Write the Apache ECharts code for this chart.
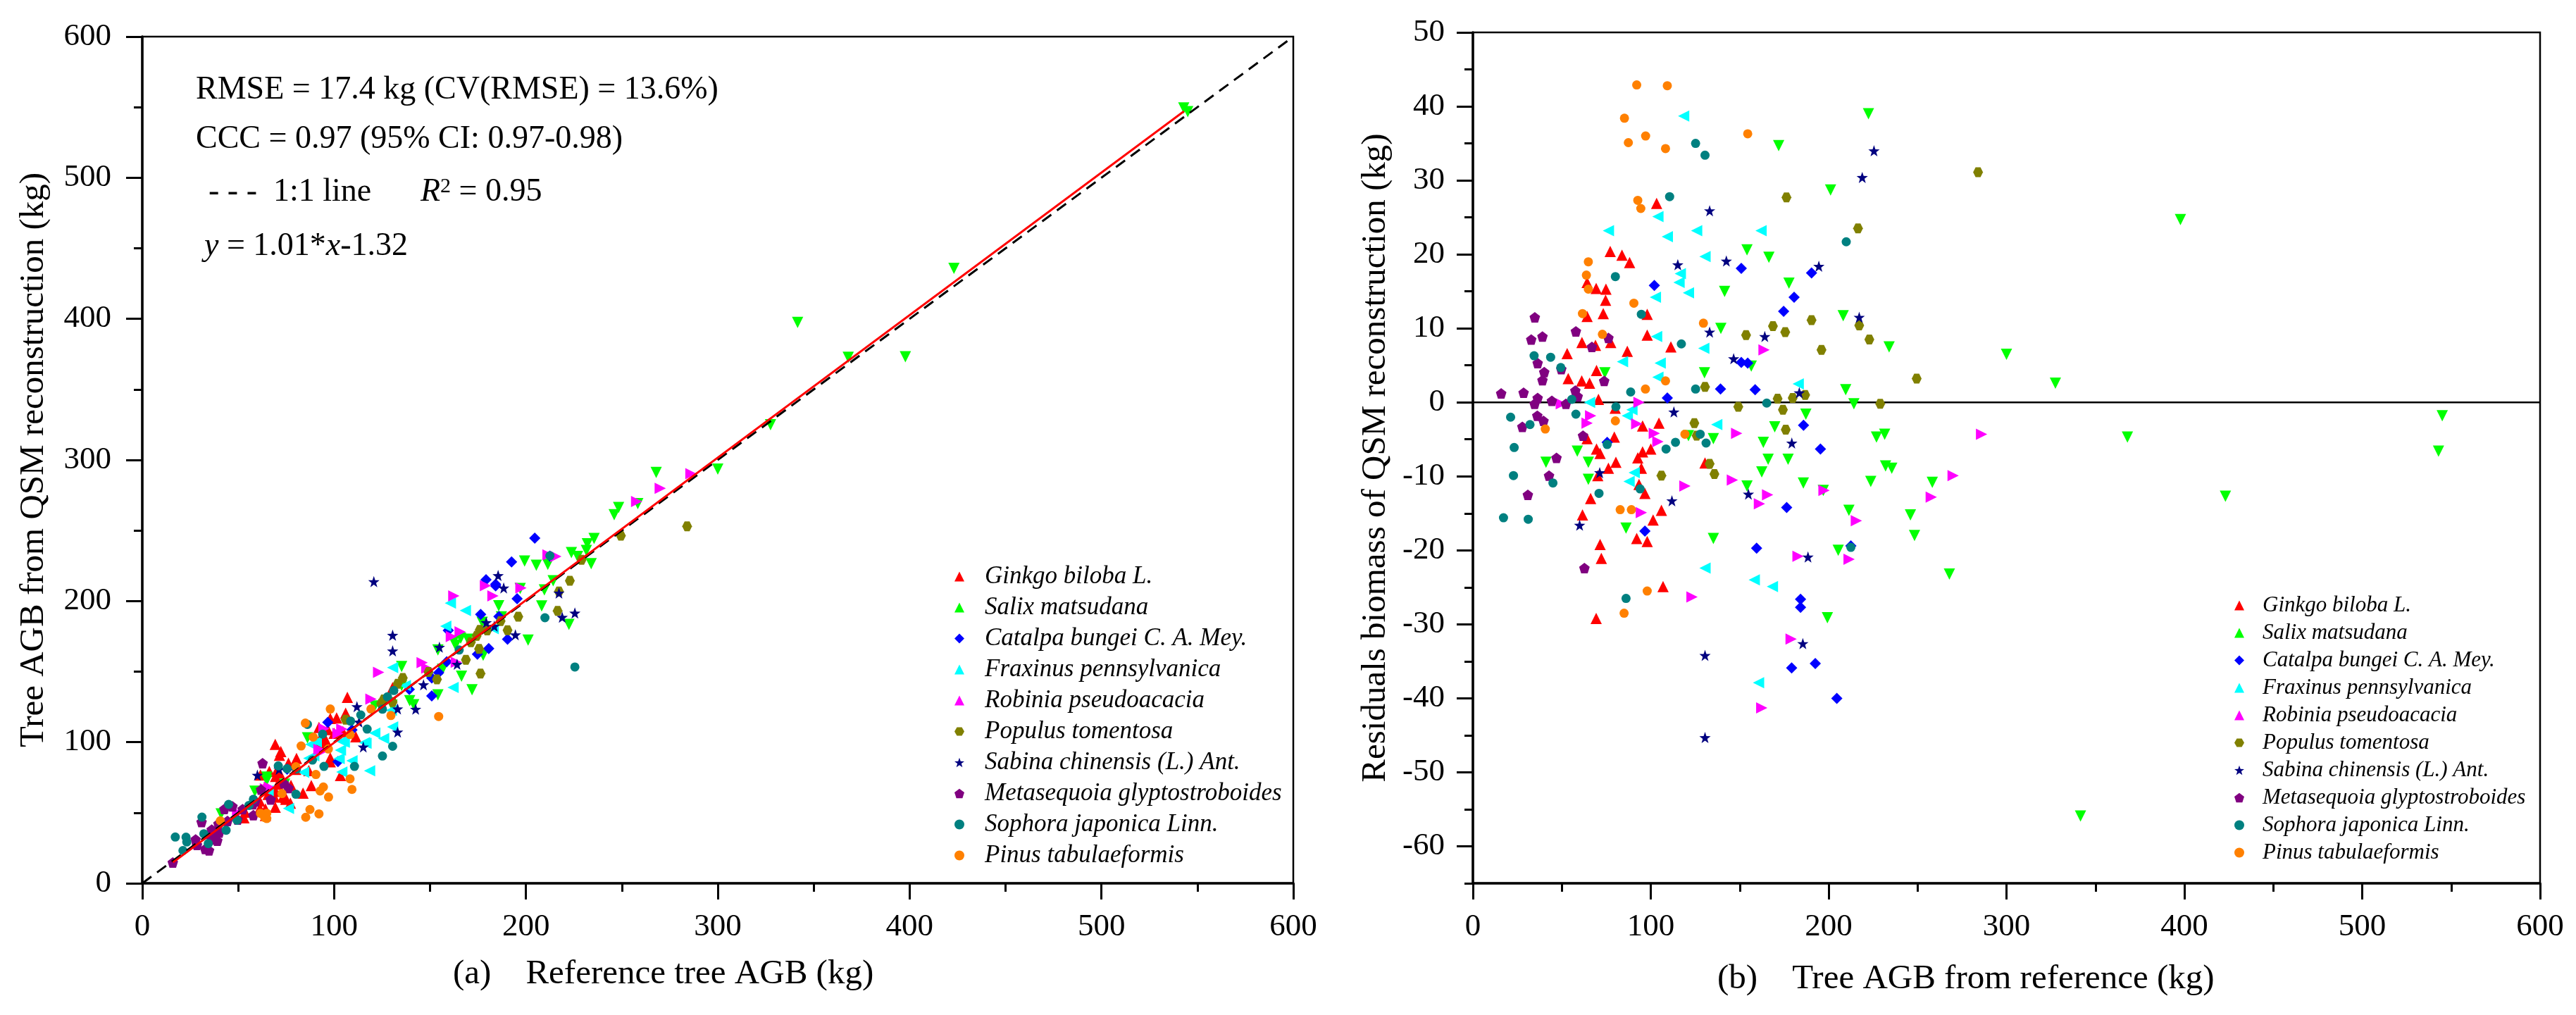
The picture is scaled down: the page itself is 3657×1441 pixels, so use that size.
<!DOCTYPE html>
<html>
<head>
<meta charset="utf-8">
<title>QSM tree AGB</title>
<script src="https://cdn.jsdelivr.net/npm/echarts@6/dist/echarts.min.js"></script>
<style>html,body{margin:0;padding:0;background:#fff;}</style>
</head>
<body>
<div id="chart" style="width:3657px;height:1441px;"></div>
<script>
// each point: [reference AGB (kg), residual (kg)], residual = reference - QSM estimate
var ginkgo = [[103.3,26.9],[77.2,20.4],[83.8,19.9],[88.1,18.9],[64.2,16.2],[69.3,15.4],[74.8,15.3],[74.6,13.8],[73.3,12.0],[64.2,11.6],[98.0,11.9],[98.0,9.1],[61.3,8.1],[68.9,7.7],[77.5,8.1],[86.8,6.9],[111.3,7.5],[53.0,6.6],[53.6,3.2],[61.2,2.9],[65.6,2.6],[69.5,4.3],[70.6,0.4],[130.5,-8.2],[95.4,-3.2],[104.6,-2.8],[80.0,-0.8],[64.2,-4.9],[69.5,-6.3],[71.5,-6.9],[79.5,-4.7],[95.4,-6.7],[100.0,-6.3],[92.7,-7.5],[94.7,-8.9],[80.4,-8.1],[76.2,-8.9],[70.2,-9.9],[93.4,-11.1],[96.7,-12.3],[66.2,-13.0],[101.3,-15.9],[106.0,-14.6],[61.6,-15.2],[92.1,-18.4],[98.0,-18.8],[71.5,-19.2],[72.2,-21.1],[106.9,-24.9],[69.3,-29.2]];
var salix = [[74.2,4.0],[130.2,4.0],[139.4,10.0],[141.5,15.0],[41.1,-8.1],[58.7,-6.6],[64.9,-8.1],[64.9,-10.4],[86.1,-17.0],[135.2,-4.9],[135.2,-18.4],[121.2,-4.5],[222.4,39.0],[171.9,34.7],[201.1,28.7],[154.1,20.6],[166.4,19.6],[177.7,16.1],[208.2,11.7],[234.0,7.5],[300.0,6.5],[156.5,4.9],[209.6,1.7],[214.2,-0.2],[187.2,-1.6],[169.7,-3.3],[163.3,-5.4],[226.9,-4.7],[231.5,-4.3],[166.0,-7.7],[177.2,-7.7],[162.4,-9.4],[232.0,-8.6],[235.5,-8.9],[154.1,-11.3],[185.8,-10.9],[197.0,-11.9],[223.7,-10.7],[258.3,-10.8],[211.4,-14.6],[246.0,-15.2],[248.3,-18.0],[205.4,-20.0],[267.9,-23.2],[199.3,-29.1],[397.8,24.7],[327.5,2.6],[368.0,-4.7],[545.0,-1.8],[542.9,-6.6],[423.1,-12.7],[341.6,-55.9]];
var catalpa = [[102.0,15.8],[109.3,0.6],[139.2,1.8],[75.5,-5.4],[96.7,-17.4],[150.9,18.1],[190.4,17.5],[180.6,14.2],[174.7,12.3],[150.9,5.4],[154.5,5.3],[158.7,1.7],[185.9,-3.1],[195.4,-6.3],[176.4,-14.2],[159.5,-19.7],[212.5,-19.4],[184.2,-26.6],[184.2,-27.7],[179.2,-35.9],[192.5,-35.3],[204.6,-40.0]];
var fraxinus = [[118.5,38.7],[76.2,23.2],[104.0,25.1],[109.3,22.4],[125.8,23.2],[130.5,19.7],[116.6,17.4],[115.9,16.2],[121.2,14.8],[102.6,14.2],[103.3,8.9],[84.1,5.5],[105.3,5.3],[104.0,3.4],[129.8,7.3],[65.6,0.0],[86.8,-1.8],[89.4,-1.0],[137.1,-3.0],[90.7,-9.5],[87.8,-10.7],[130.5,-22.4],[162.0,23.2],[182.9,2.5],[158.2,-24.0],[168.4,-24.9],[160.6,-37.9]];
var robinia = [[49.7,-0.2],[93.4,0.0],[64.2,-2.8],[66.2,-1.8],[92.1,-2.9],[102.0,-4.2],[104.0,-5.3],[94.7,-14.9],[119.2,-11.3],[123.2,-26.3],[163.7,7.1],[148.3,-4.2],[145.9,-10.5],[161.1,-13.7],[165.7,-12.5],[197.4,-11.9],[215.6,-16.0],[182.8,-20.8],[211.5,-21.2],[178.9,-32.0],[162.4,-41.3],[270.0,-9.9],[257.7,-12.8],[286.0,-4.3]];
var populus = [[124.5,-2.8],[125.8,-4.5],[130.5,2.1],[133.1,-8.3],[135.8,-9.7],[106.0,-9.9],[284.0,31.1],[176.3,27.7],[216.5,23.5],[190.4,11.1],[168.7,10.3],[175.6,9.5],[153.6,9.1],[217.2,10.4],[222.9,8.5],[196.0,7.1],[249.5,3.2],[149.2,-0.6],[171.3,0.5],[179.8,0.6],[186.8,1.0],[174.3,-1.0],[229.0,-0.2],[175.9,-3.7]];
var sabina = [[133.1,25.9],[115.2,18.6],[142.5,19.1],[133.1,9.5],[113.0,-1.3],[71.3,-9.5],[111.9,-13.3],[60.0,-16.6],[130.5,-34.2],[130.5,-45.3],[225.5,34.0],[218.9,30.4],[194.5,18.4],[217.2,11.5],[164.1,8.9],[146.6,5.9],[183.5,1.3],[179.3,-5.5],[154.9,-12.4],[188.4,-20.9],[185.5,-32.6],[120.7,-93.1]];
var metasequoia = [[15.9,1.2],[28.5,1.3],[34.8,11.5],[32.8,8.5],[39.1,8.9],[36.4,5.3],[40.1,4.1],[39.1,3.0],[36.4,0.6],[34.7,-0.2],[36.2,-1.8],[39.7,-2.5],[27.8,-3.3],[44.4,0.2],[52.3,-0.2],[49.7,4.5],[57.9,9.6],[57.6,1.6],[58.9,0.8],[66.9,7.5],[76.2,8.7],[73.8,2.9],[61.9,-4.5],[47.0,-7.5],[42.8,-9.9],[30.9,-12.5],[62.7,-22.4]];
var sophora = [[125.2,35.0],[130.5,33.4],[110.6,27.8],[80.1,17.0],[94.7,11.9],[117.2,7.9],[34.4,6.3],[43.7,6.1],[49.4,4.7],[55.6,0.4],[88.7,1.4],[125.2,1.8],[21.2,-2.0],[32.1,-3.0],[23.2,-6.1],[22.8,-9.9],[45.0,-10.9],[17.2,-15.6],[31.1,-15.8],[57.9,-1.6],[80.4,-0.6],[75.5,-5.7],[70.9,-12.3],[86.1,-26.5],[94.0,-11.7],[108.6,-6.3],[113.9,-5.4],[127.8,-4.3],[131.1,-5.5],[209.9,21.7],[165.2,-0.1],[212.5,-19.6],[225.5,72.2]];
var pinus = [[92.1,42.9],[109.3,42.8],[85.2,38.4],[87.4,35.1],[97.1,36.0],[108.3,34.3],[92.7,27.3],[94.4,26.2],[64.9,19.0],[63.8,17.2],[64.9,15.3],[61.6,12.0],[90.5,13.4],[72.8,9.2],[97.0,1.8],[108.3,2.9],[40.7,-3.6],[80.1,-2.5],[119.2,-4.3],[82.8,-14.5],[89.1,-14.5],[85.0,-28.5],[98.0,-25.5],[154.5,36.3],[129.6,10.7]];

var speciesNames = ['Ginkgo biloba L.', 'Salix matsudana', 'Catalpa bungei C. A. Mey.', 'Fraxinus pennsylvanica',
  'Robinia pseudoacacia', 'Populus tomentosa', 'Sabina chinensis (L.) Ant.', 'Metasequoia glyptostroboides',
  'Sophora japonica Linn.', 'Pinus tabulaeformis'];
var speciesData = [ginkgo, salix, catalpa, fraxinus, robinia, populus, sabina, metasequoia, sophora, pinus];

var oneToOne = [[0, 0], [600, 600]];
var fitLine = [[16, 14.8], [543, 547.1]];
var zeroLine = [[0, 0], [600, 0]];
var residMajor = [-60, -50, -40, -30, -20, -10, 0, 10, 20, 30, 40, 50];
var residMinor = [-65, -55, -45, -35, -25, -15, -5, 5, 15, 25, 35, 45];

var colors = ['#ff0000', '#00ff00', '#0000ff', '#00ffff', '#ff00ff', '#808000', '#000080', '#800080', '#008080', '#ff8000'];
var STAR = 'path://M0,-10L2.35,-3.24L9.51,-3.09L3.8,1.24L5.88,8.09L0,4L-5.88,8.09L-3.8,1.24L-9.51,-3.09L-2.35,-3.24Z';
var PENT = 'path://M0,-10L9.51,-3.09L5.88,8.09L-5.88,8.09L-9.51,-3.09Z';
var HEX = 'path://M-10,0L-5,-8.66L5,-8.66L10,0L5,8.66L-5,8.66Z';
var symbols = ['triangle', 'triangle', 'diamond', 'triangle', 'triangle', HEX, STAR, PENT, 'circle', 'circle'];
var rotates = [0, 180, 0, 90, -90, 0, 0, 0, 0, 0];
var sizes = [16, 16, 16, 16, 16, 14, 16, 15, 13, 13];

var FONT = '"Liberation Serif", "Times New Roman", serif';

var chart = echarts.init(document.getElementById('chart'));

function axisCommon() {
  return {
    axisLine: { show: true, onZero: false, lineStyle: { color: '#000', width: 3.5 } },
    axisTick: { show: true, inside: false, length: 23, lineStyle: { color: '#000', width: 3 } },
    minorTick: { show: true, splitNumber: 2, length: 12, lineStyle: { color: '#000', width: 3 } },
    splitLine: { show: false },
    minorSplitLine: { show: false },
    axisLabel: { color: '#000', fontFamily: FONT, fontSize: 45 }
  };
}

var xLeft = Object.assign(axisCommon(), { type: 'value', gridIndex: 0, min: 0, max: 600, interval: 100 });
xLeft.axisLabel.margin = 40;
var yLeft = Object.assign(axisCommon(), { type: 'value', gridIndex: 0, min: 0, max: 600, interval: 100 });
yLeft.axisLabel.margin = 44;
var xRight = Object.assign(axisCommon(), { type: 'value', gridIndex: 1, min: 0, max: 600, interval: 100 });
xRight.axisLabel.margin = 40;

var yRight = Object.assign(axisCommon(), { type: 'value', gridIndex: 1, min: -65, max: 50, position: 'left' });
yRight.minorTick = { show: false };
yRight.axisTick.customValues = residMajor;
yRight.axisLabel.customValues = residMajor;
yRight.axisLabel.margin = 40;

var yRightMinor = {
  type: 'value', gridIndex: 1, min: -65, max: 50, position: 'left',
  axisLine: { show: false },
  axisTick: { show: true, length: 12, customValues: residMinor, lineStyle: { color: '#000', width: 3 } },
  axisLabel: { show: false },
  splitLine: { show: false }
};

var series = [];
speciesData.forEach(function (pts, i) {
  var common = {
    name: speciesNames[i], type: 'scatter', symbol: symbols[i], symbolRotate: rotates[i],
    symbolSize: sizes[i], itemStyle: { color: colors[i], opacity: 1 }, clip: true
  };
  // panel (a): QSM estimate = reference - residual
  series.push(Object.assign({}, common, {
    xAxisIndex: 0, yAxisIndex: 0,
    data: pts.map(function (p) { return [p[0], +(p[0] - p[1]).toFixed(1)]; })
  }));
  series.push(Object.assign({}, common, {
    xAxisIndex: 1, yAxisIndex: 1,
    data: pts
  }));
});

series.push({
  name: '1:1', type: 'line', xAxisIndex: 0, yAxisIndex: 0, data: oneToOne, symbol: 'none', z: 5,
  lineStyle: { color: '#000', width: 3, type: [16, 10] }, silent: true
});
series.push({
  name: 'fit', type: 'line', xAxisIndex: 0, yAxisIndex: 0, data: fitLine, symbol: 'none', z: 6,
  lineStyle: { color: '#ff0000', width: 3 }, silent: true
});
series.push({
  name: 'zero', type: 'line', xAxisIndex: 1, yAxisIndex: 1, data: zeroLine, symbol: 'none', z: 1,
  lineStyle: { color: '#000', width: 2.5 }, silent: true
});

function legendAt(left, top, fs, gap, pad) {
  return {
    data: speciesNames, orient: 'vertical', left: left, top: top, itemGap: gap,
    itemWidth: 14, itemHeight: 14, selectedMode: false, symbolKeepAspect: true,
    textStyle: { fontFamily: FONT, fontStyle: 'italic', fontSize: fs, color: '#000', padding: [0, 0, 0, pad] }
  };
}

var titleFont = '49px ' + FONT;
var statFont = '46px ' + FONT;

var option = {
  animation: false,
  backgroundColor: '#fff',
  grid: [
    { left: 202, top: 52, width: 1634, height: 1202, show: true, borderColor: '#000', borderWidth: 2.5 },
    { left: 2091, top: 46, width: 1515, height: 1208, show: true, borderColor: '#000', borderWidth: 2.5 }
  ],
  xAxis: [xLeft, xRight],
  yAxis: [yLeft, yRight, yRightMinor],
  legend: [legendAt(1350, 796, 35, 9, 24), legendAt(3167, 839, 31, 8, 21)],
  series: series,
  graphic: [
    { type: 'text', x: 278, y: 128, style: { text: 'RMSE = 17.4 kg (CV(RMSE) = 13.6%)', font: statFont, fill: '#000', verticalAlign: 'middle' } },
    { type: 'text', x: 278, y: 198, style: { text: 'CCC = 0.97 (95% CI: 0.97-0.98)', font: statFont, fill: '#000', verticalAlign: 'middle' } },
    { type: 'text', x: 296, y: 273, style: { text: '- - -  1:1 line', font: statFont, fill: '#000', verticalAlign: 'middle' } },
    { type: 'text', x: 597, y: 273, style: {
      text: '{i|R}{s|2} = 0.95', font: statFont, fill: '#000', verticalAlign: 'middle',
      rich: { i: { fontFamily: FONT, fontSize: 46, fontStyle: 'italic' }, s: { fontFamily: FONT, fontSize: 30, verticalAlign: 'top', padding: [0, 0, 14, 0] } }
    } },
    { type: 'text', x: 290, y: 350, style: {
      text: '{i|y} = 1.01*{i|x}-1.32', font: statFont, fill: '#000', verticalAlign: 'middle',
      rich: { i: { fontFamily: FONT, fontSize: 46, fontStyle: 'italic' } }
    } },
    { type: 'text', x: 48, y: 653, rotation: Math.PI / 2, style: { text: 'Tree AGB from QSM reconstruction (kg)', font: titleFont, fill: '#000', align: 'center', verticalAlign: 'middle' } },
    { type: 'text', x: 1953, y: 650, rotation: Math.PI / 2, style: { text: 'Residuals biomass of QSM reconstruction (kg)', font: titleFont, fill: '#000', align: 'center', verticalAlign: 'middle' } },
    { type: 'text', x: 643, y: 1383, style: { text: '(a)    Reference tree AGB (kg)', font: titleFont, fill: '#000', verticalAlign: 'middle' } },
    { type: 'text', x: 2438, y: 1390, style: { text: '(b)    Tree AGB from reference (kg)', font: titleFont, fill: '#000', verticalAlign: 'middle' } }
  ]
};
chart.setOption(option);
</script>
</body>
</html>
